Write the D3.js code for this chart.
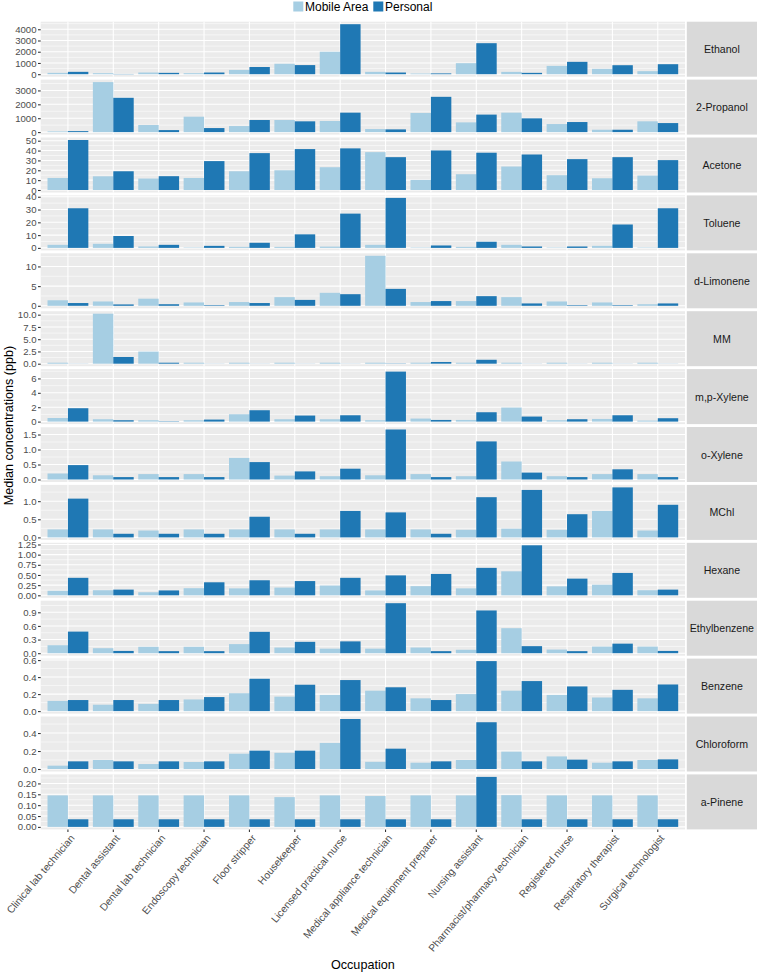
<!DOCTYPE html>
<html>
<head>
<meta charset="utf-8">
<script src="https://cdn.jsdelivr.net/npm/d3@7"></script>
<style>
  html, body { margin: 0; padding: 0; background: #ffffff; }
  svg { display: block; font-family: "Liberation Sans", Arial, Helvetica, sans-serif; }
</style>
</head>
<body>
<svg id="chart" width="758" height="977"></svg>
<script>
// ---------------- data ----------------
const occupations = [
  "Clinical lab technician", "Dental assistant", "Dental lab technician", "Endoscopy technician",
  "Floor stripper", "Housekeeper", "Licensed practical nurse", "Medical appliance technician",
  "Medical equipment preparer", "Nursing assistant", "Pharmacist/pharmacy technician",
  "Registered nurse", "Respiratory therapist", "Surgical technologist"
];
const seriesNames = ["Mobile Area", "Personal"];
const seriesColors = ["#A6CEE3", "#1F78B4"];

const compounds = ["Ethanol", "2-Propanol", "Acetone", "Toluene", "d-Limonene", "MM", "m,p-Xylene",
  "o-Xylene", "MChl", "Hexane", "Ethylbenzene", "Benzene", "Chloroform", "a-Pinene"];

// median concentrations (ppb), one row per compound, in occupation order
const mobileAreaValues = [
  [120, 90, 150, 90, 380, 930, 2000, 210, 60, 980, 207, 740, 475, 270],
  [50, 3600, 510, 1110, 435, 870, 800, 220, 1380, 700, 1400, 580, 170, 775],
  [12.2, 13.9, 11.6, 12.2, 19, 20, 23.1, 38.4, 10.2, 16, 23.8, 15, 11.9, 14.6],
  [2.4, 3.2, 1.1, 0.3, 0.8, 0.8, 1.0, 2.4, 0.3, 0.8, 2.4, 0.3, 1.6, 0.3],
  [1.4, 1.1, 1.8, 0.85, 0.95, 2.2, 3.3, 12.7, 0.95, 1.2, 2.2, 1.1, 0.85, 0.4],
  [0.2, 10.2, 2.47, 0.2, 0.2, 0.2, 0.2, 0.2, 0.2, 0.2, 0.2, 0.2, 0.2, 0.2],
  [0.5, 0.33, 0.19, 0.19, 1.02, 0.33, 0.33, 0.19, 0.42, 0.23, 1.95, 0.19, 0.37, 0.14],
  [0.2, 0.14, 0.18, 0.18, 0.72, 0.13, 0.11, 0.14, 0.18, 0.11, 0.6, 0.11, 0.18, 0.18],
  [0.22, 0.22, 0.19, 0.22, 0.22, 0.22, 0.22, 0.22, 0.22, 0.21, 0.24, 0.21, 0.73, 0.19],
  [0.11, 0.125, 0.075, 0.175, 0.17, 0.19, 0.24, 0.12, 0.225, 0.17, 0.59, 0.22, 0.26, 0.125],
  [0.175, 0.11, 0.14, 0.14, 0.2, 0.125, 0.1, 0.1, 0.125, 0.075, 0.55, 0.08, 0.145, 0.145],
  [0.12, 0.075, 0.085, 0.137, 0.21, 0.17, 0.19, 0.24, 0.15, 0.2, 0.24, 0.19, 0.16, 0.15],
  [0.037, 0.1, 0.055, 0.078, 0.17, 0.18, 0.29, 0.08, 0.07, 0.1, 0.193, 0.14, 0.07, 0.1],
  [0.145, 0.145, 0.145, 0.145, 0.145, 0.137, 0.145, 0.142, 0.145, 0.145, 0.146, 0.145, 0.145, 0.145]
];
const personalValues = [
  [210, 20, 120, 150, 640, 810, 4450, 150, 70, 2760, 120, 1100, 800, 890],
  [70, 2470, 145, 290, 870, 775, 1400, 195, 2540, 1260, 990, 725, 170, 650],
  [50.7, 19, 14, 29.3, 37.4, 41.5, 42.2, 33.3, 40.1, 37.8, 36, 31.3, 33.3, 30.3],
  [31, 9.3, 2.4, 1.6, 4, 10.6, 26.8, 39.1, 1.9, 4.8, 1.1, 1.1, 18.3, 31],
  [0.7, 0.35, 0.4, 0.15, 0.7, 1.5, 2.95, 4.3, 1.2, 2.45, 0.6, 0.15, 0.15, 0.6],
  [0.02, 1.37, 0.2, 0.02, 0.02, 0.02, 0.02, 0.05, 0.35, 0.8, 0.02, 0.02, 0.02, 0.02],
  [1.86, 0.19, 0.05, 0.28, 1.58, 0.84, 0.88, 6.95, 0.23, 1.3, 0.7, 0.33, 0.88, 0.47],
  [0.48, 0.08, 0.08, 0.08, 0.58, 0.27, 0.36, 1.667, 0.08, 1.27, 0.23, 0.08, 0.34, 0.08],
  [1.07, 0.1, 0.1, 0.1, 0.57, 0.1, 0.73, 0.69, 0.1, 1.11, 1.31, 0.64, 1.38, 0.9],
  [0.43, 0.14, 0.12, 0.32, 0.37, 0.35, 0.43, 0.49, 0.525, 0.675, 1.23, 0.41, 0.55, 0.14],
  [0.475, 0.05, 0.045, 0.045, 0.47, 0.25, 0.26, 1.1, 0.045, 0.94, 0.155, 0.045, 0.21, 0.05],
  [0.13, 0.13, 0.13, 0.165, 0.38, 0.31, 0.365, 0.28, 0.13, 0.588, 0.353, 0.29, 0.25, 0.313],
  [0.085, 0.085, 0.085, 0.085, 0.204, 0.204, 0.556, 0.226, 0.085, 0.52, 0.085, 0.104, 0.085, 0.107],
  [0.035, 0.035, 0.035, 0.035, 0.035, 0.035, 0.035, 0.035, 0.035, 0.23, 0.035, 0.035, 0.035, 0.035]
];
const yTickLabels = [
  ["0", "1000", "2000", "3000", "4000"],
  ["0", "1000", "2000", "3000"],
  ["0", "10", "20", "30", "40", "50"],
  ["0", "10", "20", "30", "40"],
  ["0", "5", "10"],
  ["0.0", "2.5", "5.0", "7.5", "10.0"],
  ["0", "2", "4", "6"],
  ["0.0", "0.5", "1.0", "1.5"],
  ["0.0", "0.5", "1.0"],
  ["0.00", "0.25", "0.50", "0.75", "1.00", "1.25"],
  ["0.0", "0.3", "0.6", "0.9"],
  ["0.0", "0.2", "0.4", "0.6"],
  ["0.0", "0.2", "0.4"],
  ["0.00", "0.05", "0.10", "0.15", "0.20"]
];
const yAxisTitle = "Median concentrations (ppb)";
const xAxisTitle = "Occupation";

// ---------------- layout ----------------
const panelLeft = 40.7, panelRight = 685;
const stripLeft = 686.8, stripRight = 757;
const panelTop0 = 21.7, panelH = 55, panelStep = 57.9;
const tickLen = 2.7;
const xLabelAngle = 50;

const svg = d3.select("#chart");

const x = d3.scaleBand().domain(occupations).range([panelLeft, panelRight])
  .paddingInner(0.1).paddingOuter(0.15);
const xSub = d3.scaleBand().domain(seriesNames).range([0, x.bandwidth()]).padding(0);
const color = d3.scaleOrdinal().domain(seriesNames).range(seriesColors);

compounds.forEach((comp, ci) => {
  const top = panelTop0 + ci * panelStep;
  const bottom = top + panelH;
  const ma = mobileAreaValues[ci], pe = personalValues[ci];
  const all = ma.concat(pe);
  const lo = Math.min(0, d3.min(all)), hi = Math.max(0, d3.max(all));
  const pad = (hi - lo) * 0.05;
  const y = d3.scaleLinear().domain([lo - pad, hi + pad]).range([bottom, top]);
  const ticks = yTickLabels[ci].map(Number);
  const step = ticks[1] - ticks[0];
  const minor = [];
  for (let i = -1; i < ticks.length; i++) {
    const m = ticks[0] + (i + 0.5) * step;
    if (m >= y.domain()[0] && m <= y.domain()[1]) minor.push(m);
  }

  const g = svg.append("g");
  g.append("rect").attr("x", panelLeft).attr("y", top)
    .attr("width", panelRight - panelLeft).attr("height", panelH).attr("fill", "#EBEBEB");
  g.selectAll("line.minor").data(minor).join("line")
    .attr("x1", panelLeft).attr("x2", panelRight)
    .attr("y1", d => y(d)).attr("y2", d => y(d))
    .attr("stroke", "#ffffff").attr("stroke-width", 0.55);
  g.selectAll("line.major").data(ticks).join("line")
    .attr("x1", panelLeft).attr("x2", panelRight)
    .attr("y1", d => y(d)).attr("y2", d => y(d))
    .attr("stroke", "#ffffff").attr("stroke-width", 1.07);
  g.selectAll("line.vgrid").data(occupations).join("line")
    .attr("x1", d => x(d) + x.bandwidth() / 2).attr("x2", d => x(d) + x.bandwidth() / 2)
    .attr("y1", top).attr("y2", bottom)
    .attr("stroke", "#ffffff").attr("stroke-width", 1.07);

  // bars
  const rows = [];
  occupations.forEach((occ, oi) => {
    rows.push({ occ, s: seriesNames[0], v: ma[oi] });
    rows.push({ occ, s: seriesNames[1], v: pe[oi] });
  });
  g.selectAll("rect.bar").data(rows).join("rect")
    .attr("x", d => x(d.occ) + xSub(d.s))
    .attr("width", xSub.bandwidth())
    .attr("y", d => Math.min(y(d.v), y(0)))
    .attr("height", d => Math.abs(y(0) - y(d.v)))
    .attr("fill", d => color(d.s));

  // y axis
  const ax = g.append("g").attr("transform", `translate(${panelLeft},0)`)
    .call(d3.axisLeft(y).tickValues(ticks).tickFormat((d, i) => yTickLabels[ci][i])
      .tickSize(tickLen).tickPadding(1.5));
  ax.select(".domain").remove();
  ax.selectAll(".tick line").attr("stroke", "#333333").attr("stroke-width", 1.07);
  ax.selectAll(".tick text").attr("fill", "#4D4D4D").attr("font-size", "9.6px")
    .attr("font-family", "'Liberation Sans', Arial, sans-serif");

  // strip
  g.append("rect").attr("x", stripLeft).attr("y", top)
    .attr("width", stripRight - stripLeft).attr("height", panelH).attr("fill", "#D9D9D9");
  g.append("text").attr("x", (stripLeft + stripRight) / 2).attr("y", top + panelH / 2)
    .attr("text-anchor", "middle").attr("dominant-baseline", "central")
    .attr("font-size", "10.6px").attr("fill", "#1A1A1A").text(comp);

  // x axis on bottom panel
  if (ci === compounds.length - 1) {
    const xa = svg.append("g").attr("transform", `translate(0,${bottom})`)
      .call(d3.axisBottom(x).tickSize(tickLen).tickFormat(""));
    xa.select(".domain").remove();
    xa.selectAll(".tick line").attr("stroke", "#333333").attr("stroke-width", 1.07);
    svg.append("g").selectAll("text").data(occupations).join("text")
      .attr("transform", d => `translate(${x(d) + x.bandwidth() / 2 + 1.5},${bottom + 4.3}) rotate(${-xLabelAngle})`)
      .attr("text-anchor", "end").attr("dy", "0.72em")
      .attr("font-size", "10.3px").attr("fill", "#4D4D4D").text(d => d);
  }
});

// axis titles
svg.append("text").attr("x", (panelLeft + panelRight) / 2).attr("y", 969)
  .attr("text-anchor", "middle").attr("font-size", "12.6px").attr("fill", "#000").text(xAxisTitle);
const yMid = panelTop0 + (13 * panelStep + panelH) / 2;
svg.append("text").attr("transform", `translate(13,${yMid}) rotate(-90)`)
  .attr("text-anchor", "middle").attr("font-size", "12.6px").attr("fill", "#000").text(yAxisTitle);

// legend
const legend = svg.append("g");
const legendItems = [
  { name: seriesNames[0], kx: 293.3, tx: 305 },
  { name: seriesNames[1], kx: 373.3, tx: 385 }
];
legend.selectAll("rect").data(legendItems).join("rect")
  .attr("x", d => d.kx).attr("y", 1.5).attr("width", 10).attr("height", 10)
  .attr("fill", d => color(d.name));
legend.selectAll("text").data(legendItems).join("text")
  .attr("x", d => d.tx).attr("y", 10.8).attr("font-size", "12px").attr("fill", "#000")
  .text(d => d.name);
</script>
</body>
</html>
